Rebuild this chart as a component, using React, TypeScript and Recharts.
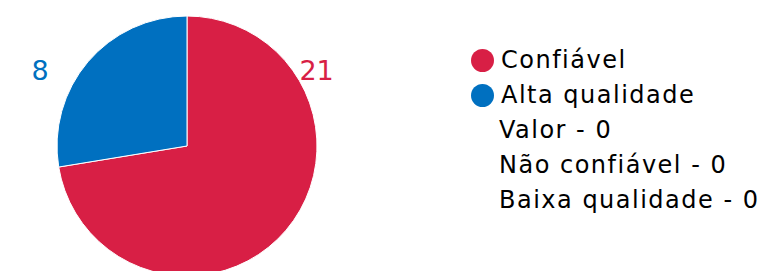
import { PieChart, Pie, Cell, Legend } from 'recharts';

const names = ['Confiável', 'Alta qualidade', 'Valor', 'Não confiável', 'Baixa qualidade'];
const values = [21, 8, 0, 0, 0];
const colors = ['#D81F45', '#0070C0', '#8E8E8E', '#F0A500', '#5A5A5A'];

const data = names.map((name, i) => ({ name, value: values[i], color: colors[i] }));
const drawn = data.filter((d) => d.value > 0);

const FONT = '"DejaVu Sans", sans-serif';

const renderLabel = (props: any) => {
  const { cx, cy, outerRadius, midAngle, value, index } = props;
  // labels sit in the upper part, on the side of the slice
  const isRight = Math.cos((midAngle * Math.PI) / 180) > 0;
  const dy = outerRadius * 0.585;
  const edge = Math.sqrt(outerRadius * outerRadius - dy * dy);
  const x = isRight ? cx + edge + 7 : cx - edge - 33;
  return (
    <text
      x={x}
      y={cy - dy + 10}
      fill={drawn[index].color}
      textAnchor={isRight ? 'start' : 'end'}
      fontSize={27}
      fontFamily={FONT}
    >
      {value}
    </text>
  );
};

const LegendContent = () => (
  <div
    style={{
      fontFamily: FONT,
      fontSize: 24,
      letterSpacing: 1.5,
      color: '#000',
      lineHeight: '35px',
    }}
  >
    {data.map((d) =>
      d.value > 0 ? (
        <div key={d.name} style={{ display: 'flex', alignItems: 'center' }}>
          <span
            style={{
              display: 'inline-block',
              width: 23,
              height: 23,
              borderRadius: '50%',
              background: d.color,
              marginRight: 7,
            }}
          />
          <span>{d.name}</span>
        </div>
      ) : (
        <div key={d.name} style={{ paddingLeft: 28 }}>
          {d.name} - {d.value}
        </div>
      ),
    )}
  </div>
);

export default function App() {
  return (
    <div style={{ width: 771, height: 271 }}>
      <style>{`body{margin:0}`}</style>
      <PieChart width={771} height={271} margin={{ top: 0, right: 0, bottom: 0, left: 0 }}>
        <Pie
          data={drawn}
          dataKey="value"
          nameKey="name"
          cx={187}
          cy={146}
          outerRadius={130}
          startAngle={90}
          endAngle={-270}
          stroke="#fff"
          strokeWidth={1}
          label={renderLabel}
          labelLine={false}
          isAnimationActive={false}
        >
          {drawn.map((d) => (
            <Cell key={d.name} fill={d.color} />
          ))}
        </Pie>
        <Legend
          layout="vertical"
          verticalAlign="top"
          align="right"
          content={<LegendContent />}
          wrapperStyle={{ left: 471, top: 43, width: 300 }}
        />
      </PieChart>
    </div>
  );
}
